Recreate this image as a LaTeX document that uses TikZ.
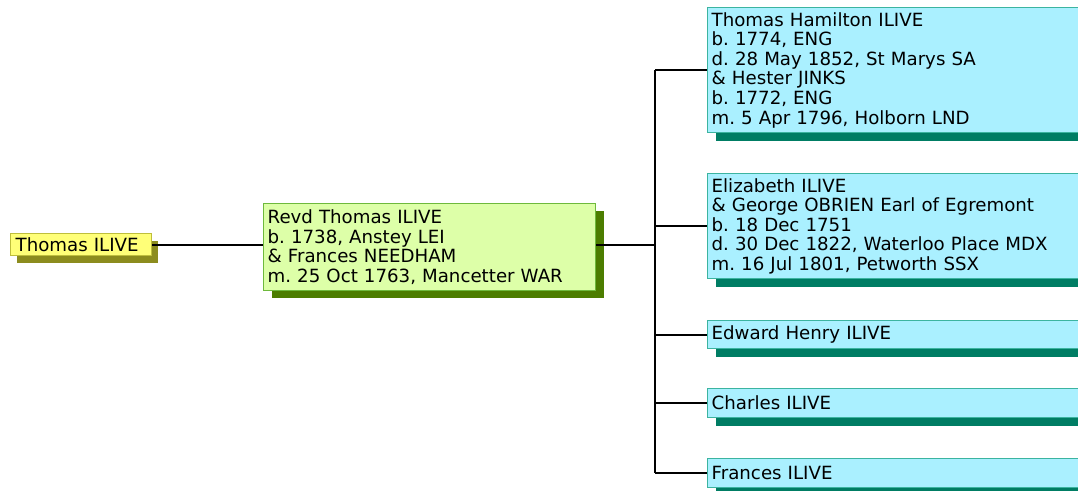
\documentclass[tikz,border=0pt]{standalone}
\usepackage{fontspec}
\setmainfont[WordSpace=1.35]{DejaVu Sans}
\frenchspacing
\usetikzlibrary{shadows}
\definecolor{yfill}{RGB}{255,255,120}
\definecolor{ydraw}{RGB}{190,190,60}
\definecolor{yshad}{RGB}{140,140,30}
\definecolor{gfill}{RGB}{221,255,168}
\definecolor{gdraw}{RGB}{110,185,60}
\definecolor{gshad}{RGB}{76,125,0}
\definecolor{cfill}{RGB}{170,240,255}
\definecolor{cdraw}{RGB}{60,180,160}
\definecolor{cshad}{RGB}{0,125,100}
\tikzset{
  person/.style={anchor=north west, align=left, inner xsep=4pt, inner ysep=1pt,
    line width=1.3pt, font=\frenchspacing\fontsize{18.2}{19.6}\selectfont},
  rootbox/.style={person, draw=ydraw, fill=yfill, minimum width=141pt, minimum height=22pt, text width=131pt, inner xsep=5pt,
    general shadow={fill=yshad, shadow xshift=6pt, shadow yshift=-7pt}},
  parentbox/.style={person, draw=gdraw, fill=gfill, minimum width=332pt, minimum height=87pt, text width=324pt,
    general shadow={fill=gshad, shadow xshift=8pt, shadow yshift=-7pt}},
  childbox/.style={person, draw=cdraw, fill=cfill, text width=375pt,
    general shadow={fill=cshad, shadow xshift=8pt, shadow yshift=-8pt}},
  link/.style={line width=2pt, black}
}
\begin{document}
\begin{tikzpicture}[x=1pt,y=-1pt]
\useasboundingbox (0,0) rectangle (1078,490);
\clip (0,0) rectangle (1078,490);
\fill[white] (0,0) rectangle (1078,490);
\node[rootbox] (root) at (10,233) {Thomas ILIVE};
\node[parentbox] (par) at (263,203) {Revd Thomas ILIVE\\b. 1738, Anstey LEI\\\& Frances NEEDHAM\\m. 25 Oct 1763, Mancetter WAR};
\node[childbox, minimum height=125pt] (c1) at (707,7) {Thomas Hamilton ILIVE\\b. 1774, ENG\\d. 28 May 1852, St Marys SA\\\& Hester JINKS\\b. 1772, ENG\\m. 5 Apr 1796, Holborn LND};
\node[childbox, minimum height=105pt] (c2) at (707,173) {Elizabeth ILIVE\\\& George OBRIEN Earl of Egremont\\b. 18 Dec 1751\\d. 30 Dec 1822, Waterloo Place MDX\\m. 16 Jul 1801, Petworth SSX};
\node[childbox, minimum height=28pt] (c3) at (707,320) {Edward Henry ILIVE};
\node[childbox, minimum height=29pt] (c4) at (707,388) {Charles ILIVE};
\node[childbox, minimum height=29pt] (c5) at (707,458) {Frances ILIVE};
\coordinate (bus) at (655,245);
\draw[link] (root.east) -- (root.east -| par.west);
\draw[link] (par.east |- bus) -- (bus);
\draw[link] (bus |- c1.west) -- (bus |- c5.west);
\foreach \c in {c1,c2,c3,c4,c5} \draw[link] (bus |- \c.west) -- (\c.west);
\end{tikzpicture}
\end{document}
